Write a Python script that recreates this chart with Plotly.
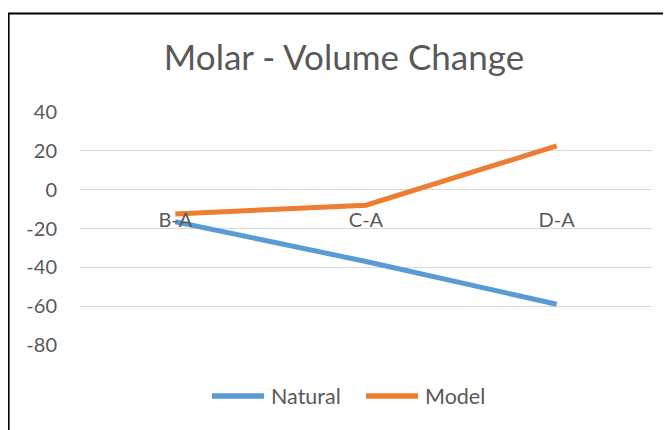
import plotly.graph_objects as go

categories = ["B-A", "C-A", "D-A"]
natural = [-16.5, -37, -59]
model = [-12.5, -8, 22.5]
y_ticks = [-80, -60, -40, -20, 0, 20, 40]
y_tick_text = ["-80", "-60", "-40", "-20", "0", "20", "40"]
series_names = ["Natural", "Model"]
series_colors = ["#5B9BD5", "#ED7D31"]

FONT = "Lato"
TXT = "#595959"

# page body has an 8px margin: plot area wanted at window x 80..652, y 112..345
W, H = 663, 422
PX0, PX1, PY0, PY1 = 80, 652, 112, 345
def px(X):
    return (X - PX0) / (PX1 - PX0)
def py(Y):
    return (PY1 - Y) / (PY1 - PY0)

fig = go.Figure()
for name, vals, col in zip(series_names, [natural, model], series_colors):
    fig.add_trace(go.Scatter(x=categories, y=vals, mode="lines", name=name,
                             line=dict(color=col, width=5), showlegend=False))

fig.update_layout(
    width=W, height=H,
    margin=dict(l=PX0 - 8, r=W - (PX1 - 8), t=PY0 - 8, b=H - (PY1 - 8)),
    paper_bgcolor="white", plot_bgcolor="white",
    font=dict(family=FONT, color=TXT, size=20),
    title=dict(text="Molar - Volume Change", x=px(344), xanchor="center", xref="paper",
               y=1 - 50 / H, yanchor="middle",
               font=dict(family=FONT, size=35, color=TXT)),
    xaxis=dict(type="category", range=[-0.5, 2.5], showgrid=False, showline=False,
               zeroline=False, anchor="free", position=2/3, ticks="",
               ticklabelstandoff=16, tickfont=dict(size=20, color=TXT)),
    yaxis=dict(range=[-80, 40], tickvals=y_ticks, ticktext=y_tick_text,
               showgrid=True, gridcolor="#D9D9D9",
               gridwidth=1.3, zeroline=False, showline=False, ticks="",
               ticklabelstandoff=22, tickfont=dict(size=20, color=TXT)),
)

# manual legend, Excel style
leg_y = py(396)
for name, col, x0, x1, tx in zip(series_names, series_colors, [212, 366], [264, 418], [269, 423]):
    fig.add_shape(type="line", xref="paper", yref="paper", x0=px(x0), x1=px(x1),
                  y0=leg_y, y1=leg_y, line=dict(color=col, width=5.5))
    fig.add_annotation(text=name, xref="paper", yref="paper", x=px(tx), y=leg_y,
                       xanchor="left", yanchor="middle", showarrow=False,
                       font=dict(size=21.5, color=TXT, family=FONT))

# outer chart border (top and left visible in frame)
fig.add_shape(type="rect", xref="paper", yref="paper",
              x0=px(8.5), x1=px(700), y0=py(460), y1=py(13.5),
              line=dict(color="black", width=2.2), fillcolor="rgba(0,0,0,0)", layer="above")

fig.write_html("out.html")
